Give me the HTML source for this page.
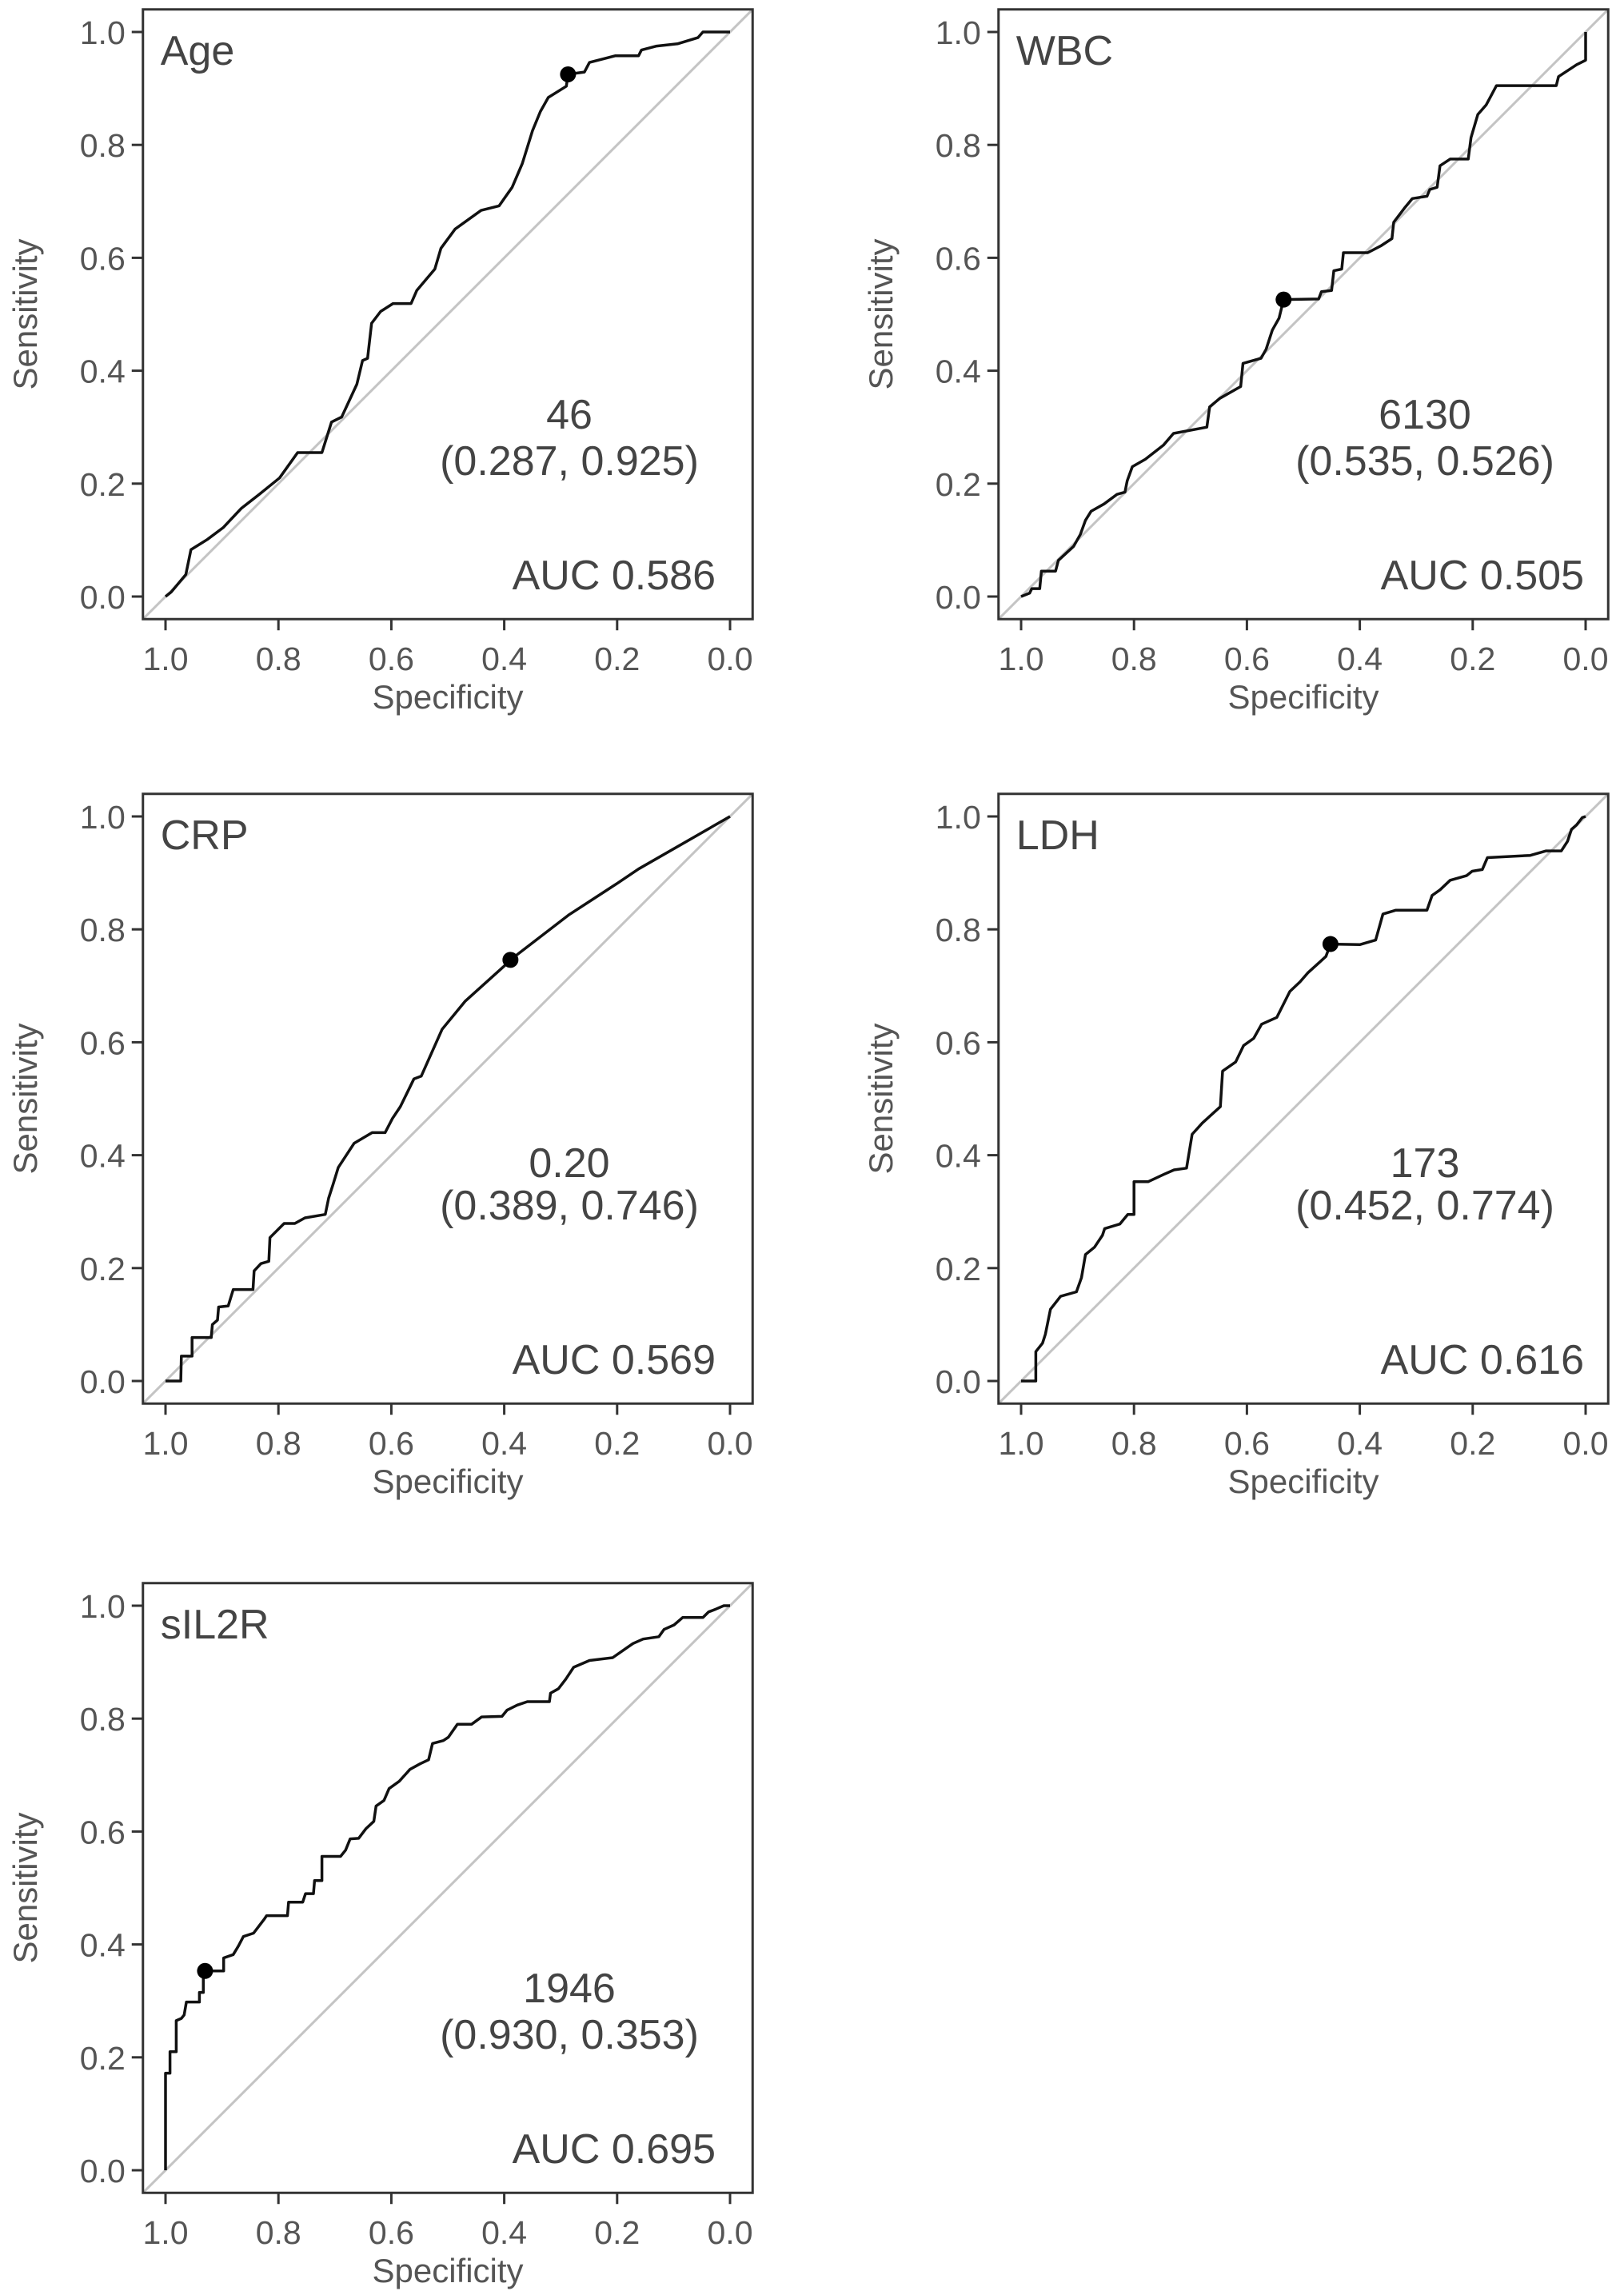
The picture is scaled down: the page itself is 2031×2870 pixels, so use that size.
<!DOCTYPE html>
<html><head><meta charset="utf-8">
<style>
html,body{margin:0;padding:0;background:#fff;}
svg{display:block;font-family:"Liberation Sans",Arial,sans-serif;}
</style></head>
<body>
<svg id="chart" width="2031" height="2870" viewBox="0 0 2031 2870" xmlns="http://www.w3.org/2000/svg"></svg>
<script>
const panelNames = ["Age","WBC","CRP","LDH","sIL2R"];
const thresholds = ["46","6130","0.20","173","1946"];
const optSpec = [0.287,0.535,0.389,0.452,0.930];
const optSens = [0.925,0.526,0.746,0.774,0.353];
const aucValues = ["0.586","0.505","0.569","0.616","0.695"];
const tickValues = [0,0.2,0.4,0.6,0.8,1.0];
const tickLabels = ["0.0","0.2","0.4","0.6","0.8","1.0"];
const ageSpec=[1,.990,.964,.955,.926,.898,.866,.834,.798,.766,.723,.706,.688,.661,.651,.642,.635,.619,.597,.565,.555,.523,.512,.487,.441,.409,.386,.368,.350,.336,.322,.290,.287,.258,.249,.203,.162,.157,.130,.093,.057,.048,0];
const ageSens=[0,.008,.039,.083,.101,.122,.156,.181,.210,.255,.255,.309,.318,.376,.418,.422,.484,.505,.519,.519,.542,.580,.617,.651,.684,.692,.725,.767,.825,.859,.884,.904,.925,.929,.946,.958,.958,.968,.975,.979,.990,1,1];
const wbcSpec=[1,.985,.981,.967,.964,.939,.934,.907,.895,.886,.876,.853,.830,.816,.812,.803,.780,.748,.730,.671,.666,.648,.611,.607,.575,.566,.555,.543,.535,.473,.468,.450,.446,.432,.429,.386,.363,.343,.340,.321,.307,.281,.276,.263,.258,.240,.208,.203,.191,.176,.158,.052,.048,.016,0,0];
const wbcSens=[0,.006,.014,.014,.045,.045,.064,.089,.110,.135,.151,.164,.181,.185,.205,.230,.243,.268,.289,.300,.336,.351,.372,.413,.422,.438,.472,.493,.526,.527,.540,.542,.577,.580,.609,.609,.621,.634,.663,.688,.705,.709,.721,.725,.763,.775,.775,.813,.854,.871,.905,.905,.921,.942,.950,1];
const crpSpec=[1,.973,.972,.953,.953,.919,.917,.908,.906,.889,.880,.845,.843,.831,.817,.815,.790,.771,.753,.717,.711,.703,.694,.666,.634,.611,.598,.584,.560,.547,.510,.469,.400,.389,.285,.199,.162,0];
const crpSens=[0,0,.044,.044,.077,.077,.100,.108,.131,.133,.162,.162,.195,.208,.212,.254,.279,.279,.289,.295,.324,.349,.378,.421,.440,.440,.465,.486,.535,.540,.623,.673,.735,.746,.826,.882,.907,1];
const ldhSpec=[1,.974,.974,.962,.957,.948,.930,.902,.893,.886,.870,.856,.852,.825,.811,.800,.800,.775,.747,.729,.707,.697,.679,.647,.643,.620,.606,.588,.574,.547,.524,.506,.492,.460,.452,.400,.372,.359,.336,.281,.272,.258,.240,.211,.201,.183,.174,.098,.070,.043,.032,.025,.016,.006,0];
const ldhSens=[0,0,.052,.067,.083,.127,.150,.158,.183,.224,.237,.258,.270,.278,.295,.295,.353,.353,.366,.374,.377,.437,.457,.486,.549,.565,.594,.607,.632,.644,.690,.707,.723,.752,.774,.773,.781,.827,.834,.834,.860,.870,.887,.895,.903,.906,.927,.931,.939,.939,.956,.977,.985,.998,1];
const il2Spec=[1,1,.992,.992,.981,.981,.972,.967,.963,.940,.940,.933,.933,.930,.897,.897,.880,.871,.862,.844,.825,.821,.784,.782,.757,.752,.738,.736,.723,.723,.690,.681,.673,.658,.645,.631,.627,.613,.604,.586,.567,.549,.534,.527,.508,.499,.483,.458,.440,.404,.395,.377,.359,.320,.318,.304,.291,.277,.249,.208,.185,.172,.154,.126,.117,.099,.084,.048,.038,.025,.011,0];
const il2Sens=[0,.172,.172,.210,.210,.265,.269,.275,.298,.298,.315,.315,.353,.353,.353,.376,.382,.397,.414,.420,.445,.451,.451,.475,.475,.490,.490,.513,.513,.556,.556,.567,.587,.588,.605,.618,.645,.655,.676,.689,.710,.720,.727,.756,.761,.767,.790,.790,.803,.804,.815,.824,.830,.830,.845,.853,.870,.891,.903,.908,.924,.933,.941,.945,.958,.966,.979,.979,.989,.994,1,1];
const curveSpec=[ageSpec,wbcSpec,crpSpec,ldhSpec,il2Spec];
const curveSens=[ageSens,wbcSens,crpSens,ldhSens,il2Sens];

const NS="http://www.w3.org/2000/svg";
const svg=document.getElementById('chart');
const colX=[207,1277], rowY=[746,1727,2714];
const annoRow=[[-210,-152],[-255,-202],[-210,-152]];
const aucPad=[18,2];
const U=706;
function mk(tag,attrs,parent){const e=document.createElementNS(NS,tag);for(const k in attrs)e.setAttribute(k,attrs[k]);(parent||svg).appendChild(e);return e;}

panelNames.forEach((name,i)=>{
  const cx=colX[i%2], y0=rowY[Math.floor(i/2)], ri=Math.floor(i/2);
  const sx=v=>cx+(1-v)*U;
  const sy=v=>y0-v*U;
  const g=mk('g',{});
  
  
  const d=mk('line',{x1:sx(1.04),y1:sy(-0.04),x2:sx(-0.04),y2:sy(1.04),stroke:'#c4c4c4','stroke-width':3},g);
  
  
  const pts=curveSpec[i].map((s,k)=>sx(s).toFixed(1)+','+sy(curveSens[i][k]).toFixed(1)).join(' ');
  const pl=mk('polyline',{points:pts,fill:'none',stroke:'#111','stroke-width':3.5,'stroke-linejoin':'round'},g);
  
  
  const c=mk('circle',{cx:sx(optSpec[i]),cy:sy(optSens[i]),r:10,fill:'#000'},g);
  
  
  const fr=mk('rect',{x:sx(1.04),y:sy(1.04),width:U*1.08,height:U*1.08,fill:'none',stroke:'#333','stroke-width':3},g);
  
  
  tickValues.forEach((v,k)=>{
    mk('line',{x1:sx(v),y1:sy(-0.04),x2:sx(v),y2:sy(-0.04)+14,stroke:'#333','stroke-width':3},g);
    const tx=mk('text',{x:sx(v),y:y0+92,'text-anchor':'middle','font-size':41,fill:'#555'},g);
    tx.textContent=tickLabels[k];
    
    
    mk('line',{x1:sx(1.04),y1:sy(v),x2:sx(1.04)-14,y2:sy(v),stroke:'#333','stroke-width':3},g);
    const ty=mk('text',{x:sx(1.04)-22,y:sy(v)+15,'text-anchor':'end','font-size':41,fill:'#555'},g);
    ty.textContent=tickLabels[k];
    
    
  });
  const xt=mk('text',{x:sx(0.5),y:y0+140,'text-anchor':'middle','font-size':42,fill:'#555'},g);
  xt.textContent='Specificity';
  
  
  const ytx=cx-207+46, yty=sy(0.5);
  const yt=mk('text',{x:ytx,y:yty,'text-anchor':'middle','font-size':42,fill:'#555',transform:'rotate(-90 '+ytx+' '+yty+')'},g);
  yt.textContent='Sensitivity';
  
  
  const pt=mk('text',{x:sx(1.04)+22,y:y0-665,'font-size':52,fill:'#444'},g);
  pt.textContent=name;
  
  
  const a1=mk('text',{x:cx+505,y:y0+annoRow[ri][0],'text-anchor':'middle','font-size':52,fill:'#444'},g);
  a1.textContent=thresholds[i];
  
  
  const a2=mk('text',{x:cx+505,y:y0+annoRow[ri][1],'text-anchor':'middle','font-size':52,fill:'#444'},g);
  a2.textContent='('+optSpec[i].toFixed(3)+', '+optSens[i].toFixed(3)+')';
  
  
  const au=mk('text',{x:sx(0)-aucPad[i%2],y:y0-9,'text-anchor':'end','font-size':52,fill:'#444'},g);
  au.textContent='AUC '+aucValues[i];
  
  
});
</script>
</body></html>
